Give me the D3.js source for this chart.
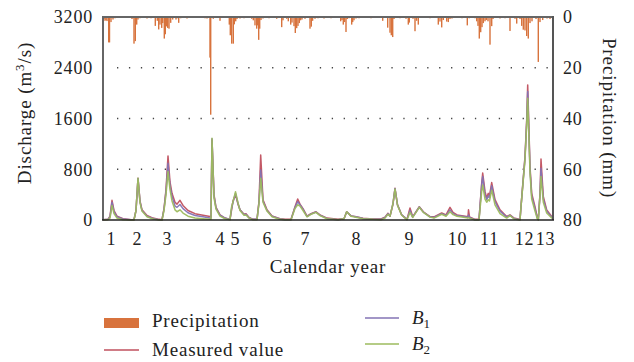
<!DOCTYPE html>
<html>
<head>
<meta charset="utf-8">
<script src="https://cdn.jsdelivr.net/npm/d3@7"></script>
<style>
  html, body { margin: 0; padding: 0; background: #fff; }
  svg { display: block; }
  text { font-family: "Liberation Serif", "Times New Roman", serif; fill: #222; }
</style>
</head>
<body>
<svg id="chart" width="634" height="362"></svg>
<script>
// ---------------- DATA ----------------
// day index along the record (0..450)
const flowDay = [0,5,7,9,11,14,20,28,31,33,35,37,39,44,50,56,59,61,63,65,67,69,72,74,77,80,85,92,100,107,108,109,111,113,117,122,127,128.5,130,132.5,135,137,141,143,146,150,154,156,157.7,160,164,169,177,182,188,192,194.7,197,200,204,208,213,217,224,235,241,243.7,248,253,260,270,278,282,285,287,290,292,294.5,298.7,304,307,309.7,316.3,320.3,327,331,338.7,343,347,350,354,362,365,365.5,366.5,372,376,378.7,379.7,382,383.7,385.3,386.5,388.7,392,397,403.7,407,411,417,418,422,423.7,424.7,427,428.7,432,434.3,435.3,437,438,440.3,443.7,448.7,450];
const measured = [5,10,60,310,150,60,20,5,5,150,660,300,160,70,30,10,5,180,480,1010,600,420,280,250,310,230,150,100,75,55,50,1260,400,200,80,30,10,150,300,400,250,160,90,100,40,10,10,300,1025,320,160,65,20,10,10,210,330,250,180,60,100,130,80,30,10,20,130,65,50,27,15,15,45,105,60,250,500,240,80,10,190,50,210,130,55,50,110,80,200,120,80,60,50,160,50,10,10,580,740,450,345,420,380,590,320,160,55,80,30,10,210,1000,1580,2130,840,420,210,40,10,420,960,370,160,55,45];
const b1 = [5,10,50,280,130,50,15,5,5,150,655,290,150,60,25,5,0,170,450,895,540,370,220,200,245,180,115,70,50,30,28,1280,380,190,75,30,10,170,280,420,260,160,85,90,35,10,10,280,790,300,150,60,15,5,5,200,290,240,170,55,95,125,75,25,5,20,130,65,50,25,10,10,40,100,60,260,495,240,80,10,150,45,205,125,50,40,100,70,160,100,70,50,40,80,40,5,5,560,685,400,320,380,350,540,290,140,45,75,25,5,210,980,1550,2025,800,380,180,30,5,400,815,330,140,45,35];
const b2 = [5,5,30,230,100,30,5,0,0,150,660,270,140,50,15,0,0,150,400,765,480,300,160,130,160,110,60,30,20,10,10,1290,350,170,60,20,5,200,290,446,270,150,75,80,30,5,5,260,660,280,140,50,10,5,5,180,240,220,150,50,90,120,70,20,5,20,130,60,45,20,10,5,30,90,60,260,490,230,75,5,120,40,200,120,45,30,90,60,130,85,60,40,30,40,30,0,0,450,550,330,280,320,300,470,240,100,30,70,15,0,210,950,1500,1920,750,330,140,20,0,380,685,280,110,30,25];

const precipDay = [1,2,3,4,5.7,6.5,8,10,12,29,31,32.3,33.7,35,37,44,48,52.3,54.3,55.7,57,58.7,59.7,61.3,62.3,63.7,64.7,66,67.7,69.7,73,74.3,75.7,77.7,84,90,102,104,107,107.7,110.3,117,126.3,127.3,128.7,130.3,131.3,132.7,134,137,141,148.7,150.3,152,153.7,154.7,155.7,156.7,158,160,166,173.7,178.7,180,183.7,185.3,187.7,189,191,192.3,193.7,195,196.3,197.6,199,202,207,208.3,209.6,212,215,221,228,237.7,239,240.3,241.6,243,244.3,246,248.7,249.7,251,253,256,268,279.7,284.7,287,288.3,289.7,291,297,303,305.3,306.3,310,312,313.6,315.3,327,335.3,337,338.7,340.3,343.7,345.3,347,349,359,364.3,366.3,372,373.7,375,376.3,377.7,379,380.3,382,383.3,385,387,388.7,390,397,402,407,412,413.7,417,418.7,420.3,422,423.7,425.3,427,429,433,435.3,437,439.7,444,447];
const precipMm = [0.8,1.5,1.2,1.6,10,10,2,1,0.5,0.8,10.5,9.5,3,1,0.5,0.6,0.5,3.5,1.5,4.9,3,4.3,2.4,8.5,6.8,3.7,4.3,4.6,2.3,1,1,0.5,2.3,0.5,0.6,0.4,0.5,0.6,16,38.5,0.7,1.5,3,7.2,10.5,10.5,2.9,1.7,0.8,0.6,0.5,0.7,1.3,3.3,4.6,3.3,9,4.6,1.2,0.6,0.5,0.7,4,1.3,0.7,1.7,3,2.2,3.6,6.3,4.4,3.5,2.4,1.3,1,0.7,4.6,3.8,1.5,0.7,0.5,0.6,0.5,1.7,1.2,3,2,5.9,0.8,0.5,3,2,1.3,0.6,0.5,0.5,1.5,4.2,6.2,7.2,7.9,0.8,0.5,0.7,3,2.2,0.7,5.6,1.5,3,0.5,3,1.8,4.1,1.2,1.8,2,0.8,0.6,0.5,3.3,0.5,0.5,1.7,3.5,8.5,6,4,2.4,1.7,1.2,1.7,10.9,3.6,0.8,0.6,0.5,5.5,0.7,2.6,0.8,3.5,5,5.3,7.5,8.5,2.4,1.7,0.8,17.7,2,1.2,0.6,0.8];

const yearTickDay = [8,34,64,117,132,164,202,253,306,354,386,421,442];
const yearLabels = ["1","2","3","4","5","6","7","8","9","10","11","12","13"];
const dischargeTicks = [0,800,1600,2400,3200];
const precipTicks = [0,20,40,60,80];

// ---------------- LAYOUT ----------------
const svg = d3.select("#chart");
const L = 103, R = 553, T = 17, B = 220;

const x = d3.scaleLinear().domain([0,450]).range([L,R]);
const yQ = d3.scaleLinear().domain([0,3200]).range([B,T]);
const yP = d3.scaleLinear().domain([0,80]).range([T,B]);

const colRed = "#c0505e", colPurple = "#8373b4", colGreen = "#9dbb5e", colPrecip = "#d8733d";

// gridlines (dotted)
svg.append("g").selectAll("line")
  .data(dischargeTicks.filter(d => d > 0 && d < 3200))
  .join("line")
  .attr("x1", L + 14).attr("x2", R)
  .attr("y1", d => yQ(d)).attr("y2", d => yQ(d))
  .attr("stroke", "#444").attr("stroke-width", 1.3)
  .attr("stroke-dasharray", "1.3,10.63");

// lines
const line = d3.line().x((d,i) => x(flowDay[i])).y(d => yQ(d)).curve(d3.curveLinear);
[[measured,colRed],[b1,colPurple],[b2,colGreen]].forEach(([s,c]) => {
  svg.append("path").datum(s).attr("d", line)
    .attr("fill","none").attr("stroke",c).attr("stroke-width",1.5)
    .attr("stroke-linejoin","round").attr("opacity",0.95);
});

// precipitation bars (hanging from top)
svg.append("g").selectAll("rect")
  .data(precipDay)
  .join("rect")
  .attr("x", d => x(d) - 0.7)
  .attr("y", T)
  .attr("width", 1.4)
  .attr("height", (d,i) => yP(precipMm[i]) - T)
  .attr("fill", colPrecip);

// frame
svg.append("line").attr("x1",L).attr("x2",R+1).attr("y1",T).attr("y2",T).attr("stroke","#666").attr("stroke-width",2);
svg.append("line").attr("x1",L).attr("x2",L).attr("y1",T-1).attr("y2",B).attr("stroke","#666").attr("stroke-width",2);
svg.append("line").attr("x1",R).attr("x2",R).attr("y1",T-1).attr("y2",B).attr("stroke","#555").attr("stroke-width",2);
svg.append("line").attr("x1",L-1).attr("x2",R+1).attr("y1",B).attr("y2",B).attr("stroke","#222").attr("stroke-width",1.6);

// axes
const fs = "18px", ls = "0.8px";
const ax1 = svg.append("g").attr("transform",`translate(${L},0)`)
  .call(d3.axisLeft(yQ).tickValues(dischargeTicks).tickFormat(d3.format("d")).tickSize(0).tickPadding(10));
const ax2 = svg.append("g").attr("transform",`translate(${R},0)`)
  .call(d3.axisRight(yP).tickValues(precipTicks).tickFormat(d3.format("d")).tickSize(0).tickPadding(10));
const ax3 = svg.append("g").attr("transform",`translate(0,${B})`)
  .call(d3.axisBottom(x).tickValues(yearTickDay).tickFormat((d,i) => yearLabels[i]).tickSize(0).tickPadding(12));
[ax1,ax2,ax3].forEach(a => {
  a.attr("font-family", null);
  a.select(".domain").remove();
  a.selectAll("text").attr("font-family","Liberation Serif, serif").attr("font-size",fs)
    .attr("letter-spacing",ls).attr("fill","#222");
});

// axis titles
svg.append("text").attr("transform","translate(31,113) rotate(-90)")
  .attr("text-anchor","middle").attr("font-size","19px").attr("letter-spacing","0.9px")
  .html('Discharge (m<tspan baseline-shift="super" font-size="13px">3</tspan>/s)');
svg.append("text").attr("transform","translate(603,118) rotate(90)")
  .attr("text-anchor","middle").attr("font-size","19px").attr("letter-spacing","0.9px")
  .text("Precipitation (mm)");
svg.append("text").attr("x",(L+R)/2).attr("y",273)
  .attr("text-anchor","middle").attr("font-size","19px").attr("letter-spacing","0.8px")
  .text("Calendar year");

// legend
const lg = svg.append("g");
lg.append("rect").attr("x",104).attr("y",318).attr("width",35).attr("height",10).attr("fill",colPrecip);
lg.append("text").attr("x",152).attr("y",327).attr("font-size","19px").attr("letter-spacing","0.8px").text("Precipitation");
lg.append("line").attr("x1",104).attr("x2",139).attr("y1",350).attr("y2",350).attr("stroke",colRed).attr("stroke-width",1.5);
lg.append("text").attr("x",152).attr("y",356).attr("font-size","19px").attr("letter-spacing","0.8px").text("Measured value");
lg.append("line").attr("x1",365).attr("x2",399).attr("y1",318).attr("y2",318).attr("stroke",colPurple).attr("stroke-width",1.5);
lg.append("text").attr("x",412).attr("y",324).attr("font-size","19px")
  .html('<tspan font-style="italic">B</tspan><tspan font-size="13px" dy="4">1</tspan>');
lg.append("line").attr("x1",365).attr("x2",399).attr("y1",344).attr("y2",344).attr("stroke",colGreen).attr("stroke-width",1.5);
lg.append("text").attr("x",412).attr("y",350).attr("font-size","19px")
  .html('<tspan font-style="italic">B</tspan><tspan font-size="13px" dy="4">2</tspan>');
</script>
</body>
</html>
